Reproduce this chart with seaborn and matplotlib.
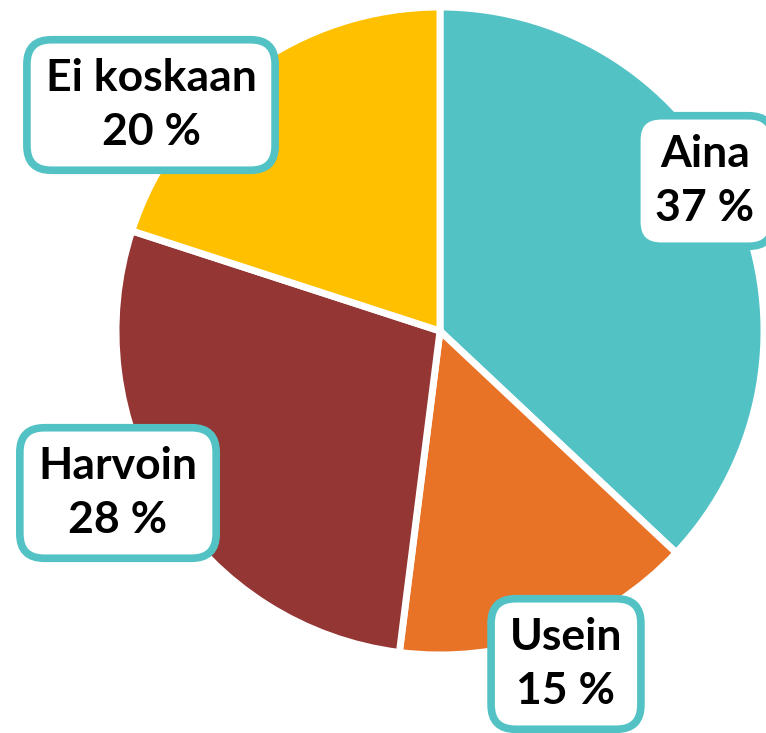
import matplotlib
matplotlib.use("Agg")
import matplotlib.pyplot as plt
import seaborn as sns

# ---- data ----
categories = ["Aina", "Usein", "Harvoin", "Ei koskaan"]
values = [37, 15, 28, 20]
colors = ["#53C2C5", "#E87226", "#943634", "#FFC000"]

sns.set_theme(style="white")
plt.rcParams["font.family"] = ["Lato", "DejaVu Sans"]

W, H = 766, 733
fig = plt.figure(figsize=(W / 100, H / 100), dpi=100)
ax = fig.add_axes([0, 0, 1, 1])

cx, cy, r = 440, H - 331, 324
wedges, _ = ax.pie(values, colors=colors, startangle=90, counterclock=False,
                   center=(cx, cy), radius=r, frame=True,
                   wedgeprops=dict(edgecolor="white", linewidth=5))
ax.set_xlim(0, W)
ax.set_ylim(0, H)
ax.set_aspect("equal")
ax.axis("off")

# label anchor positions (pixel layout, top-left origin)
label_pos = [(705, 181), (566, 664), (118, 493), (151, 105)]
for cat, val, (px, py) in zip(categories, values, label_pos):
    ax.text(px, H - py, f"{cat}\n{val} %", ha="center", va="center",
            fontsize=32, fontweight="bold", color="black", linespacing=1.4,
            bbox=dict(boxstyle="round,pad=0.42,rounding_size=0.55",
                      facecolor="white", edgecolor="#53C2C5", linewidth=5.5))

fig.savefig("out.png", dpi=100)
